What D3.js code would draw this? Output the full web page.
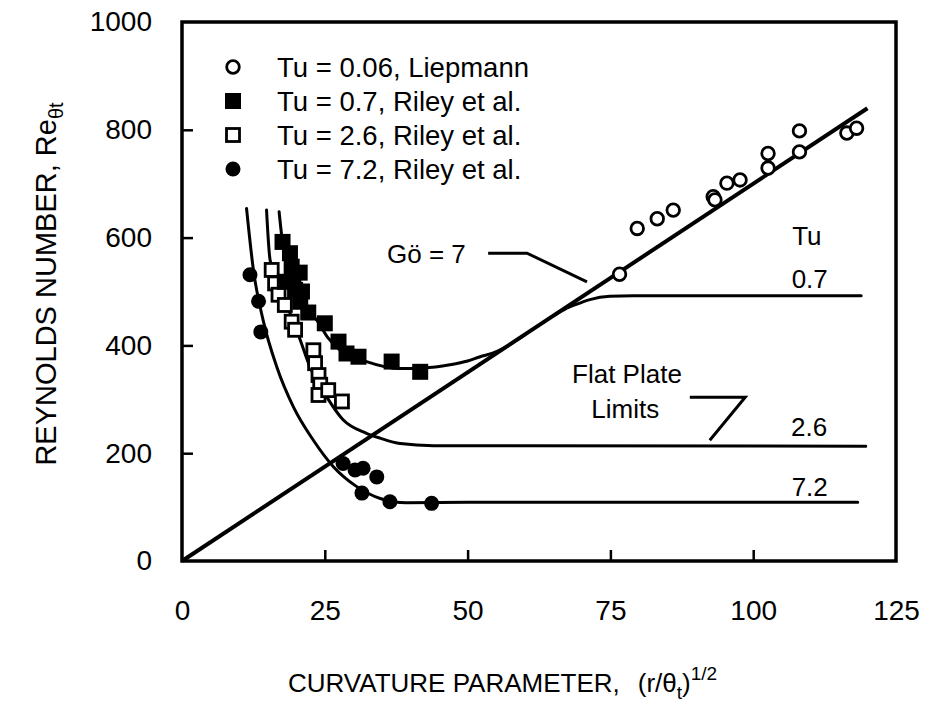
<!DOCTYPE html>
<html><head><meta charset="utf-8">
<script src="https://cdn.jsdelivr.net/npm/d3@7"></script>
<style>
body{margin:0;background:#fff;}
text{font-family:"Liberation Sans",Arial,Helvetica,sans-serif;fill:#000;}
</style></head>
<body><svg id="c" width="925" height="711"></svg>
<script>
// ---- data ----
const xTicks = [0, 25, 50, 75, 100, 125];
const yTicks = [0, 200, 400, 600, 800, 1000];
const legendLabels = ["Tu = 0.06, Liepmann", "Tu = 0.7, Riley et al.", "Tu = 2.6, Riley et al.", "Tu = 7.2, Riley et al."];
const liepmann = [[76.6,532],[79.7,617],[83.2,635],[86.0,651],[93.0,676],[93.3,670],[95.4,701],[97.7,707],[102.6,756],[102.6,729],[108.1,798],[108.1,759],[116.4,794],[118.1,803]];
const riley07 = [[17.6,592],[18.9,571],[19.2,546],[19.5,524],[18.0,518],[19.8,503],[20.6,535],[21.0,500],[20.7,481],[22.1,461],[25.0,441],[27.4,407],[28.8,385],[30.9,379],[36.7,370],[41.7,351]];
const riley26 = [[15.7,540],[16.3,515],[16.9,494],[18.0,475],[19.2,444],[19.8,429],[23.0,391],[23.3,367],[23.9,345],[24.2,327],[23.9,308],[25.6,317],[28.0,296]];
const riley72 = [[11.9,531],[13.4,482],[13.8,425],[28.2,181],[30.3,169],[31.7,172],[34.1,156],[31.5,126],[36.4,110],[43.7,107]];
const goLine = [[0,0],[120,840]];
const curve07 = [[17.0,648],[17.5,600],[18.5,560],[19.5,522],[20.7,479],[23.6,447],[25.5,415],[27.7,391],[32.3,370],[38.2,357],[42.2,358],[46.9,364],[50,371],[52.2,379],[54.5,386],[56.5,396],[58.5,409],[60,420]];
const flat07 = [[65,455],[67,467],[69,476],[71.4,485],[74.9,491],[79,492],[118.9,492]];
const curve26 = [[14.8,651],[15.4,560],[16.9,510],[18.9,460],[20.7,410],[22.4,360],[25.3,305],[28.2,262],[32.3,237],[34.7,228],[38.2,218],[44.0,214],[119.7,213]];
const curve72 = [[11.3,654],[12.5,540],[14.2,447],[16.6,360],[19.5,286],[23.0,224],[26.5,175],[30.6,138],[34.7,116],[39.3,108],[50,109],[118.3,109]];
const tuLabels = [["Tu",109.4,586],["0.7",109.9,506],["2.6",109.8,232],["7.2",109.9,121]];

// ---- chart ----
const svg = d3.select("#c");
const x = d3.scaleLinear().domain([0,125]).range([182,896]);
const y = d3.scaleLinear().domain([0,1000]).range([561,22]);

// frame
svg.append("rect").attr("x",x(0)).attr("y",y(1000)).attr("width",x(125)-x(0)).attr("height",y(0)-y(1000))
  .attr("fill","none").attr("stroke","#000").attr("stroke-width",3.5);

const gx = svg.append("g").attr("transform",`translate(0,${y(0)})`)
  .call(d3.axisBottom(x).tickValues(xTicks).tickSize(-11).tickPadding(39).tickFormat(d3.format("d")));
const gy = svg.append("g").attr("transform",`translate(${x(0)},0)`)
  .call(d3.axisLeft(y).tickValues(yTicks).tickSize(-11).tickPadding(30).tickFormat(d3.format("d")));
[gx,gy].forEach(g=>{
  g.select(".domain").remove();
  g.selectAll(".tick line").attr("stroke","#000").attr("stroke-width",2.5);
  g.selectAll(".tick text").style("font-size","28px").attr("font-family",null);
});
gx.selectAll(".tick line").filter(d=>d===0||d===125).remove();
gy.selectAll(".tick line").filter(d=>d===0||d===1000).remove();

// curves
const line = d3.line().x(d=>x(d[0])).y(d=>y(d[1]));
const smooth = d3.line().x(d=>x(d[0])).y(d=>y(d[1])).curve(d3.curveMonotoneX);
svg.append("path").datum(goLine).attr("d",line).attr("fill","none").attr("stroke","#000").attr("stroke-width",4);
[curve07,flat07,curve26,curve72].forEach(c=>{
  svg.append("path").datum(c).attr("d",smooth).attr("fill","none").attr("stroke","#000").attr("stroke-width",3).attr("stroke-linecap","round");
});

// markers
function drawMarker(g,type,cx,cy){
  if(type==="oc") g.append("circle").attr("cx",cx).attr("cy",cy).attr("r",6.3).attr("fill","#fff").attr("stroke","#000").attr("stroke-width",2.8);
  if(type==="fc") g.append("circle").attr("cx",cx).attr("cy",cy).attr("r",7.5).attr("fill","#000");
  if(type==="fs") g.append("rect").attr("x",cx-8).attr("y",cy-8).attr("width",16).attr("height",16).attr("fill","#000");
  if(type==="os") g.append("rect").attr("x",cx-6.5).attr("y",cy-6.5).attr("width",13).attr("height",13).attr("fill","#fff").attr("stroke","#000").attr("stroke-width",2.8);
}
const mg = svg.append("g");
riley26.forEach(d=>drawMarker(mg,"os",x(d[0]),y(d[1])));
riley07.forEach(d=>drawMarker(mg,"fs",x(d[0]),y(d[1])));
riley72.forEach(d=>drawMarker(mg,"fc",x(d[0]),y(d[1])));
liepmann.forEach(d=>drawMarker(mg,"oc",x(d[0]),y(d[1])));

// legend
const types = ["oc","fs","os","fc"];
const lg = svg.append("g");
legendLabels.forEach((t,i)=>{
  const ly = 67 + i*34;
  drawMarker(lg,types[i],233,ly);
  lg.append("text").attr("x",277).attr("y",ly).attr("dy","0.36em").style("font-size","27.5px").text(t);
});

// annotations
const ann = svg.append("g");
ann.append("text").attr("x",x(35.9)).attr("y",y(553)).style("font-size","26px").text("Gö = 7");
ann.append("path").datum([[53.6,571],[60.4,571],[70.9,518]]).attr("d",line).attr("fill","none").attr("stroke","#000").attr("stroke-width",3);
ann.append("text").attr("x",x(77.9)).attr("y",y(330)).attr("text-anchor","middle").style("font-size","26px").text("Flat Plate");
ann.append("text").attr("x",x(77.6)).attr("y",y(265)).attr("text-anchor","middle").style("font-size","26px").text("Limits");
ann.append("path").datum([[88.9,304],[98.6,304],[92.4,224]]).attr("d",line).attr("fill","none").attr("stroke","#000").attr("stroke-width",3);
tuLabels.forEach(d=>ann.append("text").attr("x",x(d[1])).attr("y",y(d[2])).attr("text-anchor","middle").style("font-size","26px").text(d[0]));

// axis titles
const xt = svg.append("text").attr("x",288).attr("y",692).style("font-size","26px");
xt.append("tspan").text("CURVATURE PARAMETER,");
xt.append("tspan").attr("dx",18).text("(r/θ");
xt.append("tspan").attr("dy",7).style("font-size","19px").text("t");
xt.append("tspan").attr("dy",-7).text(")");
xt.append("tspan").attr("dy",-12).style("font-size","19px").text("1/2");

const yt = svg.append("text").attr("transform","translate(56,284) rotate(-90)").attr("text-anchor","middle").style("font-size","29px");
yt.append("tspan").text("REYNOLDS NUMBER,  Re");
yt.append("tspan").attr("dy",7).style("font-size","20px").text("θt");
</script></body></html>
